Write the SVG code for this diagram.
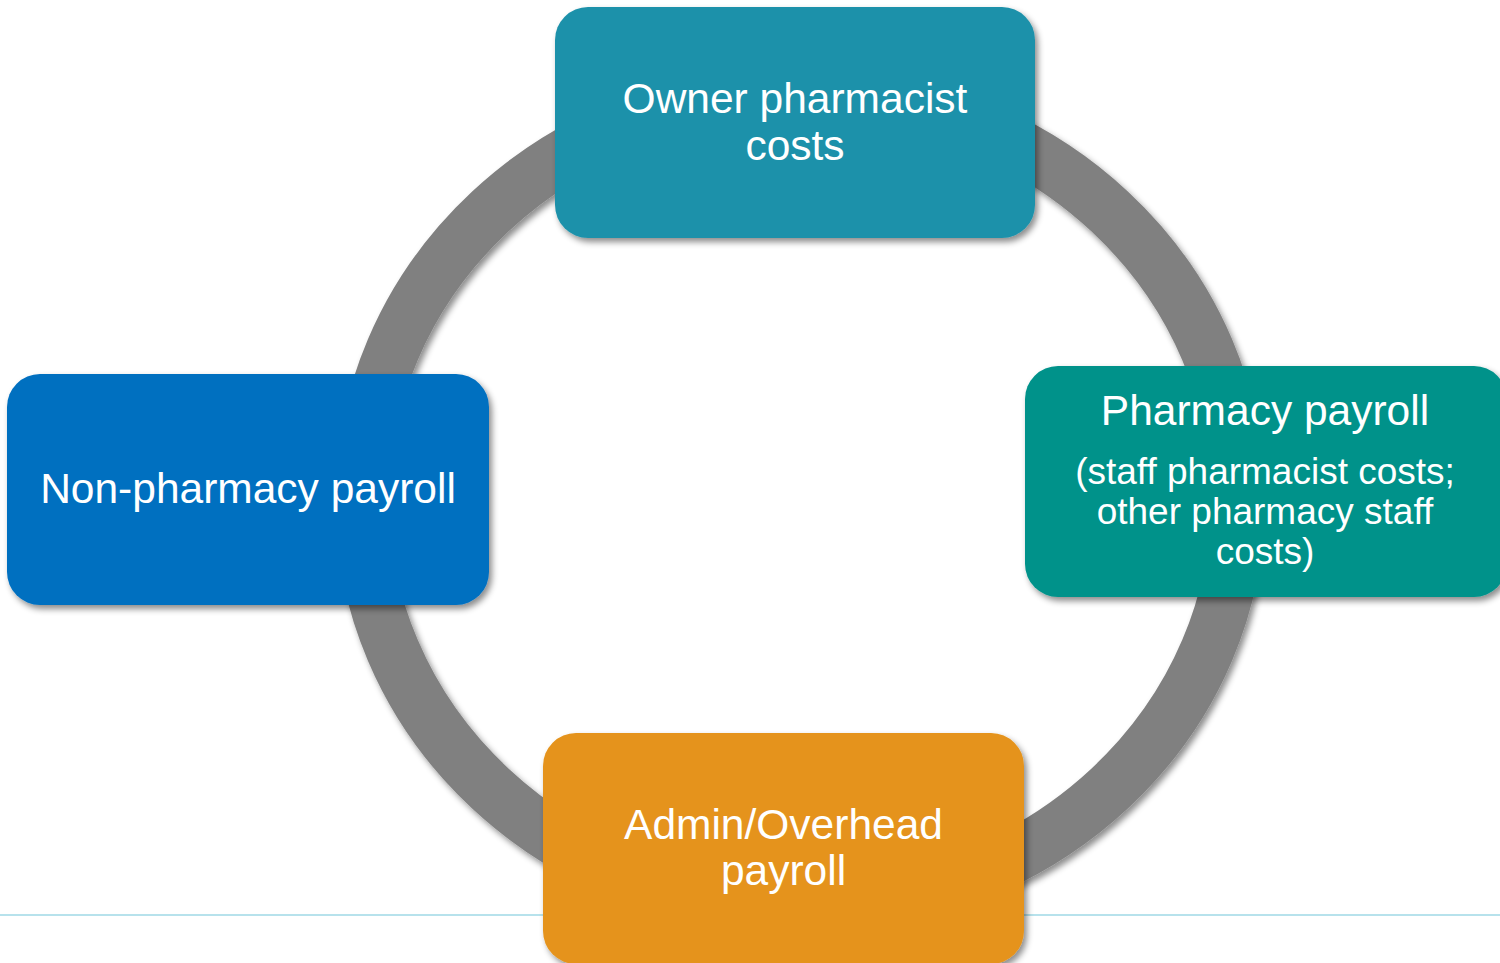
<svg xmlns="http://www.w3.org/2000/svg" width="1500" height="963" viewBox="0 0 1500 963">
  <defs>
    <filter id="shadow" x="-10%" y="-10%" width="125%" height="130%">
      <feDropShadow dx="3" dy="4" stdDeviation="3" flood-color="#000000" flood-opacity="0.45"/>
    </filter>
    <style>
      .box { filter: url(#shadow); }
      .label { font-family: "Liberation Sans", Arial, sans-serif; fill: #ffffff; text-anchor: middle; font-size: 42.5px; }
      .sub { font-size: 37px; }
    </style>
  </defs>
  <rect x="0" y="0" width="1500" height="963" fill="#ffffff"/>
  <line x1="0" y1="915" x2="1500" y2="915" stroke="#9fd9e6" stroke-width="1.5"/>
  <g id="connectors">
    <ellipse cx="800" cy="500" rx="438" ry="408" fill="none" stroke="#808080" stroke-width="54" filter="url(#shadow)"/>
  </g>
  <g id="node-owner">
    <rect class="box" x="555" y="7" width="480" height="231" rx="33" fill="#1f91aa"/>
    <text class="label" x="795" y="113">Owner pharmacist</text>
    <text class="label" x="795" y="159.5">costs</text>
  </g>
  <g id="node-nonpharmacy">
    <rect class="box" x="7" y="374" width="482" height="231" rx="33" fill="#0070c0"/>
    <text class="label" x="248" y="503">Non-pharmacy payroll</text>
  </g>
  <g id="node-pharmacy">
    <rect class="box" x="1025" y="366" width="482" height="231" rx="33" fill="#00928a"/>
    <text class="label" x="1265" y="425">Pharmacy payroll</text>
    <text class="label sub" x="1265" y="484">(staff pharmacist costs;</text>
    <text class="label sub" x="1265" y="524">other pharmacy staff</text>
    <text class="label sub" x="1265" y="564">costs)</text>
  </g>
  <g id="node-admin">
    <rect class="box" x="543" y="733" width="481" height="231" rx="33" fill="#e5931b"/>
    <text class="label" x="783.5" y="838.5">Admin/Overhead</text>
    <text class="label" x="783.5" y="885">payroll</text>
  </g>
</svg>
